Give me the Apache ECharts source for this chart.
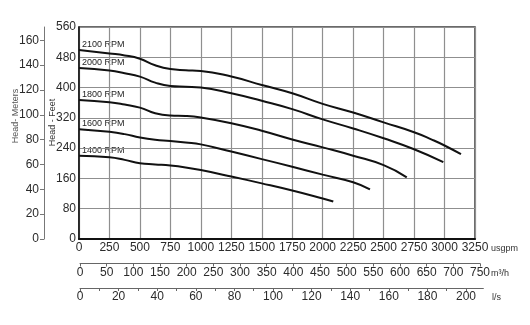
<!DOCTYPE html>
<html>
<head>
<meta charset="utf-8">
<script src="https://cdn.jsdelivr.net/npm/echarts@6/dist/echarts.min.js"></script>
<style>
  html, body { margin: 0; padding: 0; background: #fff; }
  #chart { width: 530px; height: 325px; }
</style>
</head>
<body>
<div id="chart"></div>
<script>
// Pump performance curves: head (feet) vs flow (US gpm) at several speeds
const flowTicks = [0, 250, 500, 750, 1000, 1250, 1500, 1750, 2000, 2250, 2500, 2750, 3000, 3250];
const feetTicks = [0, 80, 160, 240, 320, 400, 480, 560];
const meterTicks = [0, 20, 40, 60, 80, 100, 120, 140, 160];
const m3hTicks = [0, 50, 100, 150, 200, 250, 300, 350, 400, 450, 500, 550, 600, 650, 700, 750];
const lpsLabels = [0, 20, 40, 60, 80, 100, 120, 140, 160, 180, 200];
const lpsTicks = [0, 10, 20, 30, 40, 50, 60, 70, 80, 90, 100, 110, 120, 130, 140, 150, 160, 170, 180, 190, 200];

const rpmNames = ['2100 RPM', '2000 RPM', '1800 RPM', '1600 RPM', '1400 RPM'];

// [flow usgpm, head ft]
const rpm2100 = [[0,499],[250,490],[375,485],[500,476],[625,459],[750,449],[875,446],[1000,444],[1250,429],[1500,407],[1750,385],[2000,357],[2250,334],[2500,308],[2750,282],[2900,262],[3000,247],[3135,224]];
const rpm2000 = [[0,452],[250,445],[375,438],[500,429],[625,413],[750,404],[875,402],[1000,400],[1250,385],[1500,365],[1750,343],[2000,316],[2250,292],[2500,266],[2750,237],[2990,203]];
const rpm1800 = [[0,367],[250,361],[375,355],[500,347],[625,332],[750,326],[875,325],[1000,321],[1250,306],[1500,286],[1750,263],[2000,242],[2250,220],[2500,195],[2690,163]];
const rpm1600 = [[0,290],[250,283],[375,277],[500,268],[625,262],[750,259],[875,255],[1000,250],[1250,231],[1500,211],[1750,191],[2000,170],[2250,150],[2388,131]];
const rpm1400 = [[0,220],[250,216],[375,209],[500,200],[625,197],[750,194],[875,189],[1000,182],[1250,165],[1500,147],[1750,128],[2000,107],[2087,99]];
const curves = [rpm2100, rpm2000, rpm1800, rpm1600, rpm1400];

const FT_TO_M = 0.3048;
const feetMax = 560;
const lpsMax = 209;
const FONT = '"Liberation Sans", Arial, sans-serif';

const chart = echarts.init(document.getElementById('chart'), null, { renderer: 'canvas' });

const plain = v => String(v);
const labelStyle = { color: '#2b2b2b', fontSize: 12, fontFamily: FONT, formatter: plain };

const option = {
  animation: false,
  backgroundColor: '#fff',
  grid: [
    { left: 79, top: 27, width: 396, height: 212, show: true, borderColor: '#3a3a3a', borderWidth: 1.5, backgroundColor: 'transparent' },
    { left: 80, top: 240, width: 400, height: 23.5 },
    { left: 80, top: 265, width: lpsMax * 1.93, height: 23 }
  ],
  xAxis: [
    {
      type: 'value', gridIndex: 0, min: 0, max: 3250, interval: 250,
      axisLine: { show: true, onZero: false, lineStyle: { color: '#111', width: 2 } },
      axisTick: { show: false },
      axisLabel: Object.assign({ margin: 3, customValues: flowTicks }, labelStyle),
      splitLine: { show: true, lineStyle: { color: '#8f8f8f', width: 1.2 } }
    },
    {
      type: 'value', gridIndex: 1, min: 0, max: 750, interval: 50,
      axisLine: { show: true, onZero: false, lineStyle: { color: '#666', width: 1 } },
      axisTick: { show: true, length: 3, customValues: m3hTicks, lineStyle: { color: '#666' } },
      axisLabel: Object.assign({ margin: 3, customValues: m3hTicks }, labelStyle),
      splitLine: { show: false }
    },
    {
      type: 'value', gridIndex: 2, min: 0, max: lpsMax,
      axisLine: { show: true, onZero: false, lineStyle: { color: '#666', width: 1 } },
      axisTick: { show: true, length: 3, customValues: lpsTicks, lineStyle: { color: '#666' } },
      axisLabel: Object.assign({ margin: 3, customValues: lpsLabels }, labelStyle),
      splitLine: { show: false }
    }
  ],
  yAxis: [
    {
      type: 'value', gridIndex: 0, min: 0, max: feetMax, interval: 80,
      axisLine: { show: true, onZero: false, lineStyle: { color: '#111', width: 1.5 } },
      axisTick: { show: false },
      axisLabel: Object.assign({ margin: 3, customValues: feetTicks }, labelStyle),
      splitLine: { show: true, lineStyle: { color: '#8f8f8f', width: 1.2 } }
    },
    {
      type: 'value', gridIndex: 0, position: 'left', offset: 35,
      min: 0, max: feetMax * FT_TO_M,
      axisLine: { show: true, onZero: false, lineStyle: { color: '#777', width: 1 } },
      axisTick: { show: true, length: 4, customValues: meterTicks, lineStyle: { color: '#777' } },
      axisLabel: Object.assign({ margin: 5, customValues: meterTicks }, labelStyle),
      splitLine: { show: false }
    },
    { type: 'value', gridIndex: 1, min: 0, max: 1, show: false },
    { type: 'value', gridIndex: 2, min: 0, max: 1, show: false }
  ],
  series: curves.map((pts, i) => ({
    name: rpmNames[i],
    type: 'line',
    xAxisIndex: 0,
    yAxisIndex: 0,
    data: pts,
    smooth: 0.5,
    showSymbol: false,
    symbol: 'none',
    lineStyle: { color: '#111', width: 2 }
  })),
  graphic: []
};

chart.setOption(option);

// Speed labels sit just above the start of each curve
const texts = [];
curves.forEach((pts, i) => {
  const p = chart.convertToPixel({ xAxisIndex: 0, yAxisIndex: 0 }, pts[0]);
  texts.push({
    type: 'text', x: p[0] + 3, y: p[1] - 5.5,
    style: { text: rpmNames[i], fill: '#1e1e1e', font: '9px ' + FONT, align: 'left', verticalAlign: 'middle' }
  });
});

// Axis titles and unit captions
texts.push(
  { type: 'text', x: 15.5, y: 116, rotation: Math.PI / 2,
    style: { text: 'Head- Meters', fill: '#555', font: '9px ' + FONT, align: 'center', verticalAlign: 'middle' } },
  { type: 'text', x: 53, y: 122.5, rotation: Math.PI / 2,
    style: { text: 'Head - Feet', fill: '#333', font: '9px ' + FONT, align: 'center', verticalAlign: 'middle' } },
  { type: 'text', x: 491, y: 249, style: { text: 'usgpm', fill: '#333', font: '9px ' + FONT, align: 'left', verticalAlign: 'middle' } },
  { type: 'text', x: 491, y: 273.5, style: { text: 'm³/h', fill: '#333', font: '9px ' + FONT, align: 'left', verticalAlign: 'middle' } },
  { type: 'text', x: 492, y: 297.5, style: { text: 'l/s', fill: '#333', font: '9px ' + FONT, align: 'left', verticalAlign: 'middle' } }
);

chart.setOption({ graphic: texts });
</script>
</body>
</html>
